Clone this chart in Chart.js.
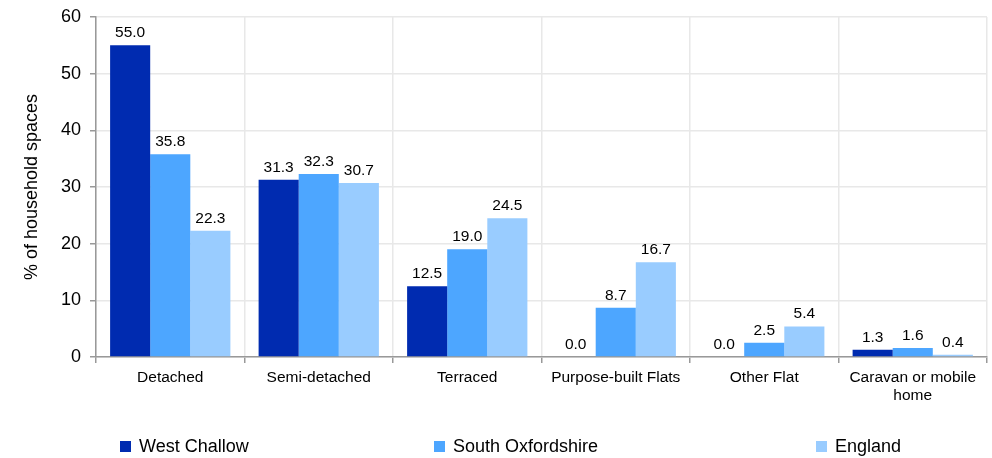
<!DOCTYPE html>
<html>
<head>
<meta charset="utf-8">
<script src="https://cdn.jsdelivr.net/npm/chart.js@4/dist/chart.umd.min.js"></script>
<style>
	html, body { margin: 0; padding: 0; background: #fff; }
	#wrap { width: 992px; height: 458px; }
</style>
</head>
<body>
<div id="wrap"><canvas id="chart"></canvas></div>
<script>
// categories and series
var categories = ['Detached', 'Semi-detached', 'Terraced', 'Purpose-built Flats', 'Other Flat', ['Caravan or mobile', 'home']];
var westChallow = [55.0, 31.3, 12.5, 0.0, 0.0, 1.3];
var southOxfordshire = [35.8, 32.3, 19.0, 8.7, 2.5, 1.6];
var england = [22.3, 30.7, 24.5, 16.7, 5.4, 0.4];
var seriesNames = ['West Challow', 'South Oxfordshire', 'England'];
var seriesColors = ['#002bb0', '#4da6ff', '#99ccff'];
var yTicks = [0, 10, 20, 30, 40, 50, 60];

var FONT = '"Liberation Sans", Arial, sans-serif';
Chart.defaults.font.family = FONT;
Chart.defaults.color = '#000';

// value labels on top of each bar
var valueLabels = {
	id: 'valueLabels',
	afterDatasetsDraw: function (chart)
	{
		var ctx = chart.ctx;
		ctx.save();
		ctx.font = '15.5px ' + FONT;
		ctx.fillStyle = '#000';
		ctx.textAlign = 'center';
		ctx.textBaseline = 'alphabetic';
		chart.data.datasets.forEach(function (ds, i)
		{
			chart.getDatasetMeta(i).data.forEach(function (bar, j)
			{
				ctx.fillText(ds.data[j].toFixed(1), bar.x, bar.y - 8);
			});
		});
		ctx.restore();
	}
};

// spread-out legend along the bottom
var bottomLegend = {
	id: 'bottomLegend',
	afterDraw: function (chart)
	{
		var ctx = chart.ctx;
		var slots = [0.121, 0.437, 0.823];
		var y = chart.height - 11;
		ctx.save();
		ctx.font = '18px ' + FONT;
		ctx.textBaseline = 'middle';
		ctx.textAlign = 'left';
		chart.data.datasets.forEach(function (ds, i)
		{
			var x = Math.round(chart.width * slots[i]);
			ctx.fillStyle = ds.backgroundColor;
			ctx.fillRect(x, y - 6, 11, 11);
			ctx.fillStyle = '#000';
			ctx.fillText(ds.label, x + 19, y);
		});
		ctx.restore();
	}
};

var datasets = [westChallow, southOxfordshire, england].map(function (values, i)
{
	return {
		label: seriesNames[i],
		data: values,
		backgroundColor: seriesColors[i],
		borderWidth: 0,
		categoryPercentage: 0.81,
		barPercentage: 1.0
	};
});

new Chart(document.getElementById('chart'), {
	type: 'bar',
	data: { labels: categories, datasets: datasets },
	plugins: [valueLabels, bottomLegend],
	options: {
		responsive: true,
		maintainAspectRatio: false,
		animation: false,
		layout: { padding: { top: 17, right: 5, left: 0, bottom: 0 } },
		plugins: {
			legend: { display: false },
			tooltip: { enabled: false }
		},
		scales: {
			x: {
				grid: { color: '#e8e8e8', lineWidth: 1.5, tickColor: '#999', tickLength: 6, offset: true },
				border: { color: '#999', width: 1.5 },
				ticks: { font: { size: 15.5, lineHeight: 1.15 }, color: '#000', padding: 6, maxRotation: 0 },
				afterFit: function (scale) { scale.height = 101; }
			},
			y: {
				min: 0,
				max: 60,
				afterBuildTicks: function (scale) { scale.ticks = yTicks.map(function (v) { return { value: v }; }); },
				grid: { color: '#e8e8e8', lineWidth: 1.5, tickColor: '#999', tickLength: 6 },
				border: { color: '#999', width: 1.5 },
				ticks: { font: { size: 18 }, color: '#000', padding: 9 },
				title: { display: true, text: '% of household spaces', font: { size: 18 }, color: '#000', padding: { top: 21, bottom: 0 } },
				afterFit: function (scale)
				{
					scale.width = 96;
					scale.paddingTop = 0;
					scale.paddingBottom = 0;
				}
			}
		}
	}
});
</script>
</body>
</html>
